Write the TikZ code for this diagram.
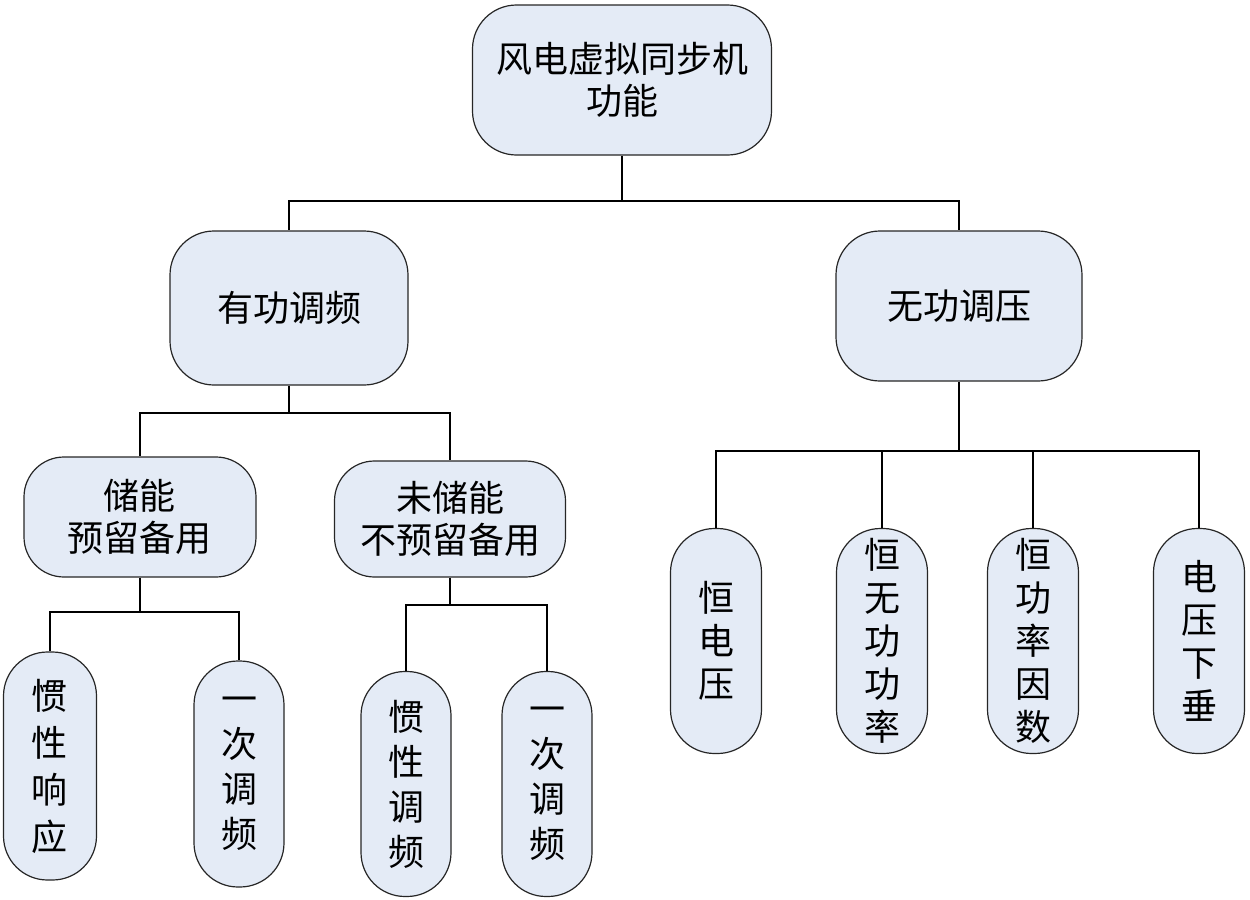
\documentclass[tikz,border=0pt]{standalone}
\usepackage{fontspec}
\newfontfamily\cjk{Noto Sans CJK SC}
\definecolor{boxfill}{HTML}{E4EBF6}
\begin{document}
\begin{tikzpicture}[x=0.5pt,y=-0.5pt,
  box/.style={draw=black!85, line width=0.6pt, fill=boxfill, align=center,
    inner sep=0pt, font=\cjk\fontsize{18}{21}\selectfont},
  vbox/.style={box, minimum width=45.5pt, minimum height=112.5pt, rounded corners=22pt},
  link/.style={draw=black, line width=0.55pt}]
\useasboundingbox (0,0) rectangle (1250,900);
% level 0
\node[box, minimum width=149.5pt, minimum height=75pt, rounded corners=22pt] (root) at (622,80) {风电虚拟同步机\\功能};
% level 1
\node[box, minimum width=119pt, minimum height=77pt, rounded corners=22pt] (yg) at (289,308) {有功调频};
\node[box, minimum width=123pt, minimum height=75pt, rounded corners=22pt] (wg) at (959,306) {无功调压};
% level 2
\node[box, minimum width=116pt, minimum height=60pt, rounded corners=20pt] (cn) at (140,517) {储能\\预留备用};
\node[box, minimum width=115.5pt, minimum height=58pt, rounded corners=20pt] (wcn) at (450,519) {未储能\\不预留备用};
% level 3 left
\node[vbox, minimum width=46.5pt, minimum height=114pt, font=\cjk\fontsize{18}{23.5}\selectfont] (gx1) at (50,766) {惯\\性\\响\\应};
\node[vbox, minimum width=45pt, minimum height=113pt, font=\cjk\fontsize{18}{22.5}\selectfont] (yc1) at (239,774) {一\\次\\调\\频};
\node[vbox, minimum width=45pt, font=\cjk\fontsize{18}{22.5}\selectfont] (gx2) at (406,784) {惯\\性\\调\\频};
\node[vbox, minimum width=45pt, font=\cjk\fontsize{18}{22.5}\selectfont] (yc2) at (547,784) {一\\次\\调\\频};
% level 3 right
\node[vbox, font=\cjk\fontsize{18}{21.5}\selectfont] (hdy) at (716,641) {恒\\电\\压};
\node[vbox, font=\cjk\fontsize{18}{21.5}\selectfont] (hwg) at (882,641) {恒\\无\\功\\功\\率};
\node[vbox, font=\cjk\fontsize{18}{21.5}\selectfont] (hgl) at (1033,641) {恒\\功\\率\\因\\数};
\node[vbox, font=\cjk\fontsize{18}{21.5}\selectfont] (dyxc) at (1199,641) {电\\压\\下\\垂};
% junction coordinates
\coordinate (j0) at (622,201);
\coordinate (j1) at (289,413);
\coordinate (j2) at (959,451);
\coordinate (j3) at (140,612);
\coordinate (j4) at (450,605);
% connectors
\path[link] (root.south) -- (j0);
\path[link] (j0) -| (yg.north);
\path[link] (j0) -| (wg.north);
\path[link] (yg.south) -- (j1);
\path[link] (j1) -| (cn.north);
\path[link] (j1) -| (wcn.north);
\path[link] (wg.south) -- (j2);
\path[link] (j2) -| (hdy.north);
\path[link] (j2) -| (hwg.north);
\path[link] (j2) -| (hgl.north);
\path[link] (j2) -| (dyxc.north);
\path[link] (cn.south) -- (j3);
\path[link] (j3) -| (gx1.north);
\path[link] (j3) -| (yc1.north);
\path[link] (wcn.south) -- (j4);
\path[link] (j4) -| (gx2.north);
\path[link] (j4) -| (yc2.north);
\end{tikzpicture}
\end{document}
